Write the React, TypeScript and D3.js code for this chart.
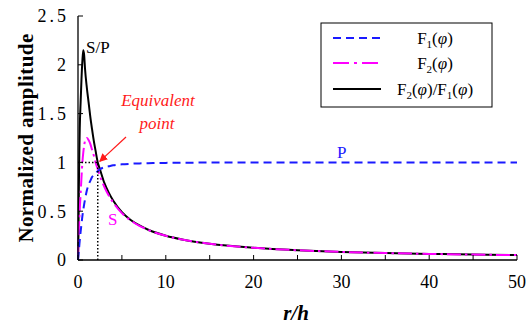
import React from "react";
import * as d3 from "d3";

// r/h sample positions
const rh = [0, 0.05, 0.1, 0.15, 0.2, 0.3, 0.4, 0.5, 0.6, 0.7, 0.8, 1, 1.2, 1.4, 1.6, 1.8, 2, 2.25, 2.5, 3, 3.5, 4, 5, 6, 7, 8, 10, 12, 15, 20, 25, 30, 35, 40, 45, 50];
// F1(φ) – P amplitude
const f1 = [0, 0.05, 0.1, 0.15, 0.2, 0.29, 0.37, 0.45, 0.51, 0.57, 0.62, 0.71, 0.77, 0.81, 0.85, 0.87, 0.89, 0.91, 0.93, 0.95, 0.96, 0.97, 0.98, 0.986, 0.99, 0.992, 0.995, 0.997, 0.998, 0.999, 0.999, 0.9995, 1, 1, 1, 1];
// F2(φ) – S amplitude
const f2 = [0, 0.15, 0.3, 0.42, 0.52, 0.68, 0.85, 1.0, 1.1, 1.17, 1.22, 1.25, 1.23, 1.19, 1.13, 1.07, 1.0, 0.93, 0.86, 0.75, 0.66, 0.59, 0.48, 0.405, 0.35, 0.308, 0.248, 0.207, 0.166, 0.125, 0.1, 0.083, 0.071, 0.0625, 0.0555, 0.05];
// F2(φ)/F1(φ) – S/P ratio
const ratio = [0, 0.25, 0.75, 1.1, 1.35, 1.62, 1.86, 2.04, 2.15, 2.1, 1.96, 1.77, 1.62, 1.47, 1.34, 1.22, 1.12, 1.0, 0.93, 0.79, 0.69, 0.61, 0.49, 0.41, 0.354, 0.31, 0.249, 0.208, 0.166, 0.125, 0.1, 0.083, 0.071, 0.0625, 0.0555, 0.05];

const xTicksMajor = [0, 10, 20, 30, 40, 50];
const xTicksMinor = [5, 15, 25, 35, 45];
const yTicks = [0, 0.5, 1, 1.5, 2, 2.5];
const equivalentPoint = { r: 2.25, v: 1 };

const W = 528, H = 328;
const plot = { left: 78, right: 517, top: 16, bottom: 260 };
const serif = "'Liberation Serif', 'Times New Roman', serif";

const BLUE = "#1a1aff";
const MAGENTA = "#ff00ff";
const RED = "#ff1a1a";

export default function App() {
  const x = d3.scaleLinear().domain([0, 50]).range([plot.left, plot.right]);
  const y = d3.scaleLinear().domain([0, 2.5]).range([plot.bottom, plot.top]);

  const line = (vals: number[]) =>
    d3.line<number>()
      .x((_, i) => x(rh[i]))
      .y((v) => y(v))
      .curve(d3.curveMonotoneX)(vals) || "";

  const legendY = [38, 63, 89];
  const lx0 = 333, lx1 = 381, ltx = 435;

  const fLabel = (n: string) => (
    <>
      F<tspan fontSize={11} dy={4}>{n}</tspan>
      <tspan dy={-4}>(</tspan>
      <tspan fontStyle="italic">φ</tspan>)
    </>
  );

  return (
    <svg width={W} height={H} style={{ position: "absolute", left: 0, top: 0, background: "#fff", fontFamily: serif }}>
      <defs>
        <marker id="arrowHead" viewBox="0 0 10 10" refX="9" refY="5" markerWidth="7" markerHeight="7" orient="auto">
          <path d="M0,0 L10,5 L0,10 z" fill={RED} />
        </marker>
      </defs>

      {/* ratio curve */}
      <path d={line(ratio)} fill="none" stroke="#000" strokeWidth={2} />
      {/* S amplitude */}
      <path d={line(f2)} fill="none" stroke={MAGENTA} strokeWidth={2} strokeDasharray="14 4 2.5 4" />
      {/* P amplitude */}
      <path d={line(f1)} fill="none" stroke={BLUE} strokeWidth={2} strokeDasharray="8 5" />

      {/* equivalent point guides */}
      <line x1={x(0)} x2={x(equivalentPoint.r)} y1={y(equivalentPoint.v)} y2={y(equivalentPoint.v)} stroke="#000" strokeWidth={1.5} strokeDasharray="1.5 2" />
      <line x1={x(equivalentPoint.r)} x2={x(equivalentPoint.r)} y1={y(0)} y2={y(equivalentPoint.v)} stroke="#000" strokeWidth={1.5} strokeDasharray="1.5 2" />

      {/* axes */}
      <line x1={plot.left} x2={plot.left} y1={plot.top} y2={plot.bottom} stroke="#000" strokeWidth={1.3} />
      <line x1={plot.left} x2={plot.right} y1={plot.bottom} y2={plot.bottom} stroke="#000" strokeWidth={1.3} />
      {yTicks.map((t) => (
        <g key={"y" + t}>
          <line x1={plot.left} x2={plot.left + 5} y1={y(t)} y2={y(t)} stroke="#000" strokeWidth={1} />
          <text x={69} y={y(t)} dy="0.35em" textAnchor="end" fontSize={18} letterSpacing={3}>{t}</text>
        </g>
      ))}
      {[...xTicksMajor, ...xTicksMinor].map((t) => (
        <line key={"xt" + t} x1={x(t)} x2={x(t)} y1={plot.bottom} y2={plot.bottom - 5} stroke="#000" strokeWidth={1} />
      ))}
      {xTicksMajor.map((t) => (
        <text key={"xl" + t} x={x(t)} y={288} textAnchor="middle" fontSize={18}>{t}</text>
      ))}

      {/* axis titles */}
      <text x={296} y={320} textAnchor="middle" fontSize={21} fontWeight="bold" fontStyle="italic">r/h</text>
      <text transform="translate(33,138) rotate(-90)" textAnchor="middle" fontSize={21} fontWeight="bold" letterSpacing={0.4}>Normalized  amplitude</text>

      {/* annotations */}
      <text x={86} y={53} fontSize={17}>S/P</text>
      <text x={108} y={225} fontSize={17} fill={MAGENTA}>S</text>
      <text x={337} y={158} fontSize={17} fill={BLUE}>P</text>
      <text x={158} y={106} textAnchor="middle" fontSize={17} fontStyle="italic" fill={RED}>Equivalent</text>
      <text x={157} y={129} textAnchor="middle" fontSize={17} fontStyle="italic" fill={RED}>point</text>
      <line x1={126} y1={137} x2={x(equivalentPoint.r) + 2} y2={y(equivalentPoint.v) - 1} stroke={RED} strokeWidth={1.2} markerEnd="url(#arrowHead)" />

      {/* legend */}
      <rect x={321} y={23} width={171} height={84} fill="#fff" stroke="#000" strokeWidth={1} />
      <line x1={lx0} x2={lx1} y1={legendY[0]} y2={legendY[0]} stroke={BLUE} strokeWidth={2} strokeDasharray="8 5" />
      <line x1={lx0} x2={lx1} y1={legendY[1]} y2={legendY[1]} stroke={MAGENTA} strokeWidth={2} strokeDasharray="16 5 3 5" />
      <line x1={lx0} x2={lx1} y1={legendY[2]} y2={legendY[2]} stroke="#000" strokeWidth={2} />
      <text x={ltx} y={legendY[0]} dy="0.35em" textAnchor="middle" fontSize={17}>{fLabel("1")}</text>
      <text x={ltx} y={legendY[1]} dy="0.35em" textAnchor="middle" fontSize={17}>{fLabel("2")}</text>
      <text x={ltx} y={legendY[2]} dy="0.35em" textAnchor="middle" fontSize={17}>
        {fLabel("2")}/{fLabel("1")}
      </text>
    </svg>
  );
}
